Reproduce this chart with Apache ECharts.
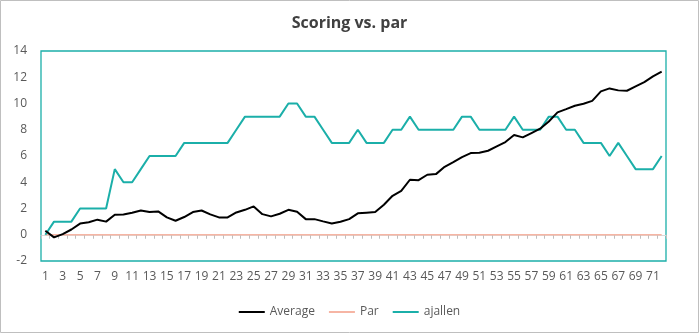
<!DOCTYPE html>
<html>
<head>
<meta charset="utf-8">
<script src="https://cdn.jsdelivr.net/npm/echarts@6/dist/echarts.min.js"></script>
<style>
  html, body { margin: 0; padding: 0; background: #fff; }
  #chart { width: 699px; height: 333px; }
</style>
</head>
<body>
<div id="chart"></div>
<script>
// Holes 1..72
const holes = Array.from({ length: 72 }, (_, i) => String(i + 1));

// Field average score relative to par, hole by hole
const average = [
  0.3, -0.2, 0.05, 0.4, 0.85, 0.95, 1.15, 1.0, 1.52, 1.55,
  1.68, 1.85, 1.73, 1.78, 1.32, 1.07, 1.35, 1.73, 1.85, 1.55,
  1.32, 1.32, 1.7, 1.9, 2.16, 1.57, 1.4, 1.6, 1.9, 1.75,
  1.19, 1.19, 1.02, 0.86, 0.99, 1.19, 1.63, 1.68, 1.73, 2.29,
  2.97, 3.35, 4.19, 4.16, 4.57, 4.62, 5.18, 5.54, 5.92, 6.22,
  6.25, 6.4, 6.73, 7.06, 7.6, 7.42, 7.75, 8.08, 8.63, 9.32,
  9.57, 9.83, 9.98, 10.2, 10.92, 11.15, 11.0, 10.97, 11.3, 11.63,
  12.06, 12.42
];

// Par reference line
const par = holes.map(() => 0);

// ajallen's running score relative to par
const ajallen = [
  0, 1, 1, 1, 2, 2, 2, 2, 5, 4,
  4, 5, 6, 6, 6, 6, 7, 7, 7, 7,
  7, 7, 8, 9, 9, 9, 9, 9, 10, 10,
  9, 9, 8, 7, 7, 7, 8, 7, 7, 7,
  8, 8, 9, 8, 8, 8, 8, 8, 9, 9,
  8, 8, 8, 8, 9, 8, 8, 8, 9, 9,
  8, 8, 7, 7, 7, 6, 7, 6, 5, 5,
  5, 6
];

const FONT = '"Open Sans", "Noto Sans", sans-serif';
const TEAL = '#1BAFA9';
const TEXT = '#595959';

const chart = echarts.init(document.getElementById('chart'), null, { renderer: 'canvas' });

chart.setOption({
  animation: false,
  backgroundColor: '#fff',
  textStyle: { fontFamily: FONT },
  title: {
    text: 'Scoring vs. par',
    left: 'center',
    top: 10,
    textStyle: { fontFamily: FONT, fontSize: 16, fontWeight: 'bold', color: '#404040' }
  },
  graphic: [{
    type: 'rect',
    shape: { x: 0.5, y: 0.5, width: 698, height: 332 },
    style: { fill: 'none', stroke: '#BFBFBF', lineWidth: 1 },
    silent: true,
    z: 100
  }],
  legend: {
    bottom: 10,
    left: 'center',
    icon: 'rect',
    itemWidth: 26,
    itemHeight: 2,
    itemGap: 14,
    textStyle: { fontFamily: FONT, fontSize: 12, color: TEXT },
    data: ['Average', 'Par', 'ajallen']
  },
  grid: {
    left: 41,
    right: 33,
    top: 51,
    bottom: 72,
    show: true,
    borderColor: TEAL,
    borderWidth: 1.3,
    backgroundColor: 'transparent'
  },
  xAxis: {
    type: 'category',
    data: holes,
    boundaryGap: true,
    axisLine: { onZero: true, lineStyle: { color: '#D9D9D9', width: 1 } },
    axisTick: { show: true, interval: 0, length: 4, inside: false, lineStyle: { color: '#BFBFBF' } },
    axisLabel: { interval: 1, color: TEXT, fontSize: 12, fontFamily: FONT, margin: 10 },
    splitLine: { show: false }
  },
  yAxis: {
    type: 'value',
    min: -2,
    max: 14,
    interval: 2,
    axisLine: { show: false },
    axisTick: { show: false },
    splitLine: { show: false },
    axisLabel: { color: TEXT, fontSize: 12, fontFamily: FONT, margin: 14 }
  },
  series: [
    {
      name: 'Average',
      type: 'line',
      data: average,
      showSymbol: false,
      symbol: 'none',
      lineStyle: { color: '#000000', width: 2 },
      itemStyle: { color: '#000000' },
      z: 4
    },
    {
      name: 'Par',
      type: 'line',
      data: par,
      showSymbol: false,
      symbol: 'none',
      lineStyle: { color: '#F6B5A4', width: 1.5 },
      itemStyle: { color: '#F6B5A4' },
      z: 2
    },
    {
      name: 'ajallen',
      type: 'line',
      data: ajallen,
      showSymbol: false,
      symbol: 'none',
      lineStyle: { color: TEAL, width: 2 },
      itemStyle: { color: TEAL },
      z: 3
    }
  ]
});
</script>
</body>
</html>
